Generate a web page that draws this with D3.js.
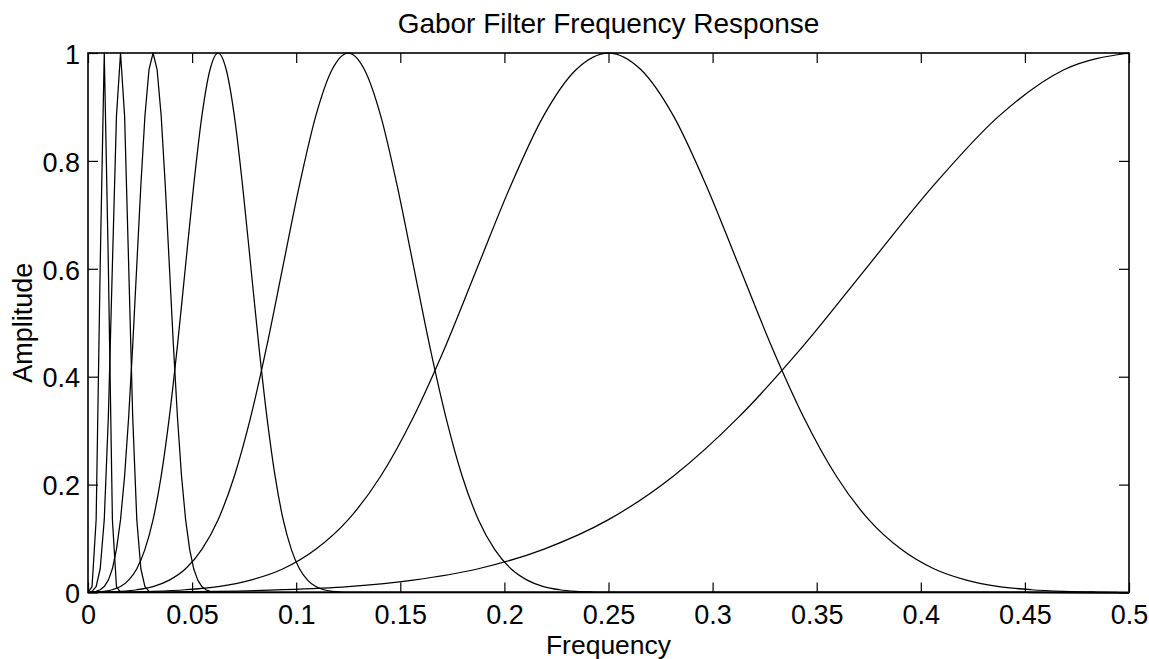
<!DOCTYPE html>
<html>
<head>
<meta charset="utf-8">
<script src="https://cdn.jsdelivr.net/npm/d3@7"></script>
<style>
  html, body { margin: 0; padding: 0; background: #fff; }
  svg text { font-family: "Liberation Sans", Arial, sans-serif; fill: #000; }
</style>
</head>
<body>
<svg id="chart" width="1149" height="659"></svg>
<script>
// ---- data ----
const chartTitle = "Gabor Filter Frequency Response";
const xLabel = "Frequency";
const yLabel = "Amplitude";
const xTicks = [0, 0.05, 0.1, 0.15, 0.2, 0.25, 0.3, 0.35, 0.4, 0.45, 0.5];
const xTickLabels = ["0", "0.05", "0.1", "0.15", "0.2", "0.25", "0.3", "0.35", "0.4", "0.45", "0.5"];
const yTicks = [0, 0.2, 0.4, 0.6, 0.8, 1];
const yTickLabels = ["0", "0.2", "0.4", "0.6", "0.8", "1"];

// filter centred at 0.0078
const freq1 = [0, 0.00195, 0.00391, 0.00586, 0.00781, 0.00977, 0.01172, 0.01367, 0.01563, 0.5];
const amp1  = [0.0003, 0.011, 0.135, 0.607, 1, 0.607, 0.135, 0.011, 0.0003, 0];

// filter centred at 0.0156
const freq2 = [0, 0.00195, 0.00391, 0.00586, 0.00781, 0.00977, 0.01172, 0.01367, 0.01563,
               0.01758, 0.01953, 0.02148, 0.02344, 0.02539, 0.02734, 0.02930, 0.03125, 0.5];
const amp2  = [0.0003, 0.0022, 0.011, 0.044, 0.135, 0.325, 0.607, 0.883, 1,
               0.883, 0.607, 0.325, 0.135, 0.044, 0.011, 0.0022, 0.0003, 0];

// filter centred at 0.03125
const freq3 = [0, 0.00195, 0.00391, 0.00586, 0.00781, 0.00977, 0.01172, 0.01367, 0.01563,
               0.01758, 0.01953, 0.02148, 0.02344, 0.02539, 0.02734, 0.02930, 0.03125,
               0.03320, 0.03516, 0.03711, 0.03906, 0.04102, 0.04297, 0.04492, 0.04688,
               0.04883, 0.05078, 0.05273, 0.05469, 0.05664, 0.05859, 0.06055, 0.0625, 0.5];
const amp3  = [0.0003, 0.0009, 0.0022, 0.0051, 0.011, 0.023, 0.044, 0.080, 0.135,
               0.216, 0.325, 0.458, 0.607, 0.755, 0.883, 0.969, 1,
               0.969, 0.883, 0.755, 0.607, 0.458, 0.325, 0.216, 0.135,
               0.080, 0.044, 0.023, 0.011, 0.0051, 0.0022, 0.0009, 0.0003, 0];

// filter centred at 0.0625
const freq4 = [0, 0.00391, 0.00781, 0.01172, 0.01563, 0.01953, 0.02344, 0.02734, 0.03125,
               0.03516, 0.03906, 0.04297, 0.04688, 0.05078, 0.05469, 0.05859, 0.0625,
               0.06641, 0.07031, 0.07422, 0.07813, 0.08203, 0.08594, 0.08984, 0.09375,
               0.09766, 0.10156, 0.10547, 0.10938, 0.11328, 0.11719, 0.12109, 0.125, 0.5];
const amp4  = [0.0003, 0.0009, 0.0022, 0.0051, 0.011, 0.023, 0.044, 0.080, 0.135,
               0.216, 0.325, 0.458, 0.607, 0.755, 0.883, 0.969, 1,
               0.969, 0.883, 0.755, 0.607, 0.458, 0.325, 0.216, 0.135,
               0.080, 0.044, 0.023, 0.011, 0.0051, 0.0022, 0.0009, 0.0003, 0];

// filter centred at 0.125
const freq5 = [0, 0.00781, 0.01563, 0.02344, 0.03125, 0.03906, 0.04688, 0.05469, 0.0625,
               0.07031, 0.07813, 0.08594, 0.09375, 0.10156, 0.10938, 0.11719, 0.125,
               0.13281, 0.14063, 0.14844, 0.15625, 0.16406, 0.17188, 0.17969, 0.1875,
               0.19531, 0.20313, 0.21094, 0.21875, 0.22656, 0.23438, 0.24219, 0.25, 0.5];
const amp5  = [0.0003, 0.0009, 0.0022, 0.0051, 0.011, 0.023, 0.044, 0.080, 0.135,
               0.216, 0.325, 0.458, 0.607, 0.755, 0.883, 0.969, 1,
               0.969, 0.883, 0.755, 0.607, 0.458, 0.325, 0.216, 0.135,
               0.080, 0.044, 0.023, 0.011, 0.0051, 0.0022, 0.0009, 0.0003, 0];

// filter centred at 0.25
const freq6 = [0, 0.01563, 0.03125, 0.04688, 0.0625, 0.07813, 0.09375, 0.10938, 0.125,
               0.14063, 0.15625, 0.17188, 0.1875, 0.20313, 0.21875, 0.23438, 0.25,
               0.26563, 0.28125, 0.29688, 0.3125, 0.32813, 0.34375, 0.35938, 0.375,
               0.39063, 0.40625, 0.42188, 0.4375, 0.45313, 0.46875, 0.48438, 0.5];
const amp6  = [0.0003, 0.0009, 0.0022, 0.0051, 0.011, 0.023, 0.044, 0.080, 0.135,
               0.216, 0.325, 0.458, 0.607, 0.755, 0.883, 0.969, 1,
               0.969, 0.883, 0.755, 0.607, 0.458, 0.325, 0.216, 0.135,
               0.080, 0.044, 0.023, 0.011, 0.0051, 0.0022, 0.0009, 0.0003];

// filter centred at 0.5
const freq7 = [0, 0.03125, 0.0625, 0.09375, 0.125, 0.15625, 0.1875, 0.21875, 0.25,
               0.28125, 0.3125, 0.34375, 0.375, 0.40625, 0.4375, 0.46875, 0.5];
const amp7  = [0.0003, 0.0009, 0.0022, 0.0051, 0.011, 0.023, 0.044, 0.080, 0.135,
               0.216, 0.325, 0.458, 0.607, 0.755, 0.883, 0.969, 1];

const seriesList = [
  { f: freq1, a: amp1, smooth: false },
  { f: freq2, a: amp2, smooth: false },
  { f: freq3, a: amp3, smooth: false },
  { f: freq4, a: amp4, smooth: true },
  { f: freq5, a: amp5, smooth: true },
  { f: freq6, a: amp6, smooth: true },
  { f: freq7, a: amp7, smooth: true }
];

// ---- layout ----
const plotL = 88, plotR = 1129, plotT = 53, plotB = 592.5;
const fontSize = 27;

const svg = d3.select("#chart");
const x = d3.scaleLinear().domain([0, 0.5]).range([plotL, plotR]);
const y = d3.scaleLinear().domain([0, 1]).range([plotB, plotT]);

// curves
const gCurves = svg.append("g");
seriesList.forEach(s => {
  const pts = s.f.map((fv, i) => [fv, s.a[i]]);
  const line = d3.line()
    .x(d => x(d[0]))
    .y(d => y(d[1]))
    .curve(s.smooth ? d3.curveMonotoneX : d3.curveLinear);
  gCurves.append("path")
    .datum(pts)
    .attr("d", line)
    .attr("fill", "none")
    .attr("stroke", "#000")
    .attr("stroke-width", 1.25)
    .attr("stroke-linejoin", "round");
});

// axes
function styleAxis(g) {
  g.selectAll(".domain").remove();
  g.selectAll(".tick line").attr("stroke", "#000").attr("stroke-width", 1.2);
  g.selectAll(".tick text")
    .style("font-size", fontSize + "px")
    .attr("fill", "#000");
}

const xb = svg.append("g").attr("transform", `translate(0,${plotB})`)
  .call(d3.axisBottom(x).tickValues(xTicks)
    .tickFormat((d, i) => xTickLabels[i]).tickSize(-10).tickSizeOuter(0).tickPadding(12));
styleAxis(xb);

const xt = svg.append("g").attr("transform", `translate(0,${plotT})`)
  .call(d3.axisTop(x).tickValues(xTicks).tickFormat("").tickSize(-10).tickSizeOuter(0));
styleAxis(xt);

const yl = svg.append("g").attr("transform", `translate(${plotL},0)`)
  .call(d3.axisLeft(y).tickValues(yTicks)
    .tickFormat((d, i) => yTickLabels[i]).tickSize(-10).tickSizeOuter(0).tickPadding(8));
styleAxis(yl);
yl.selectAll(".tick text").attr("dy", "0.38em");

const yr = svg.append("g").attr("transform", `translate(${plotR},0)`)
  .call(d3.axisRight(y).tickValues(yTicks).tickFormat("").tickSize(-10).tickSizeOuter(0));
styleAxis(yr);

// frame
svg.append("rect")
  .attr("x", plotL).attr("y", plotT)
  .attr("width", plotR - plotL).attr("height", plotB - plotT)
  .attr("fill", "none").attr("stroke", "#000").attr("stroke-width", 1.6);

// titles
svg.append("text")
  .attr("x", (plotL + plotR) / 2).attr("y", 33)
  .attr("text-anchor", "middle")
  .style("font-size", "28px")
  .text(chartTitle);

svg.append("text")
  .attr("x", (plotL + plotR) / 2).attr("y", 654)
  .attr("text-anchor", "middle")
  .style("font-size", "26.5px")
  .text(xLabel);

svg.append("text")
  .attr("transform", `translate(32,${(plotT + plotB) / 2}) rotate(-90)`)
  .attr("text-anchor", "middle")
  .style("font-size", fontSize + "px")
  .text(yLabel);
</script>
</body>
</html>
